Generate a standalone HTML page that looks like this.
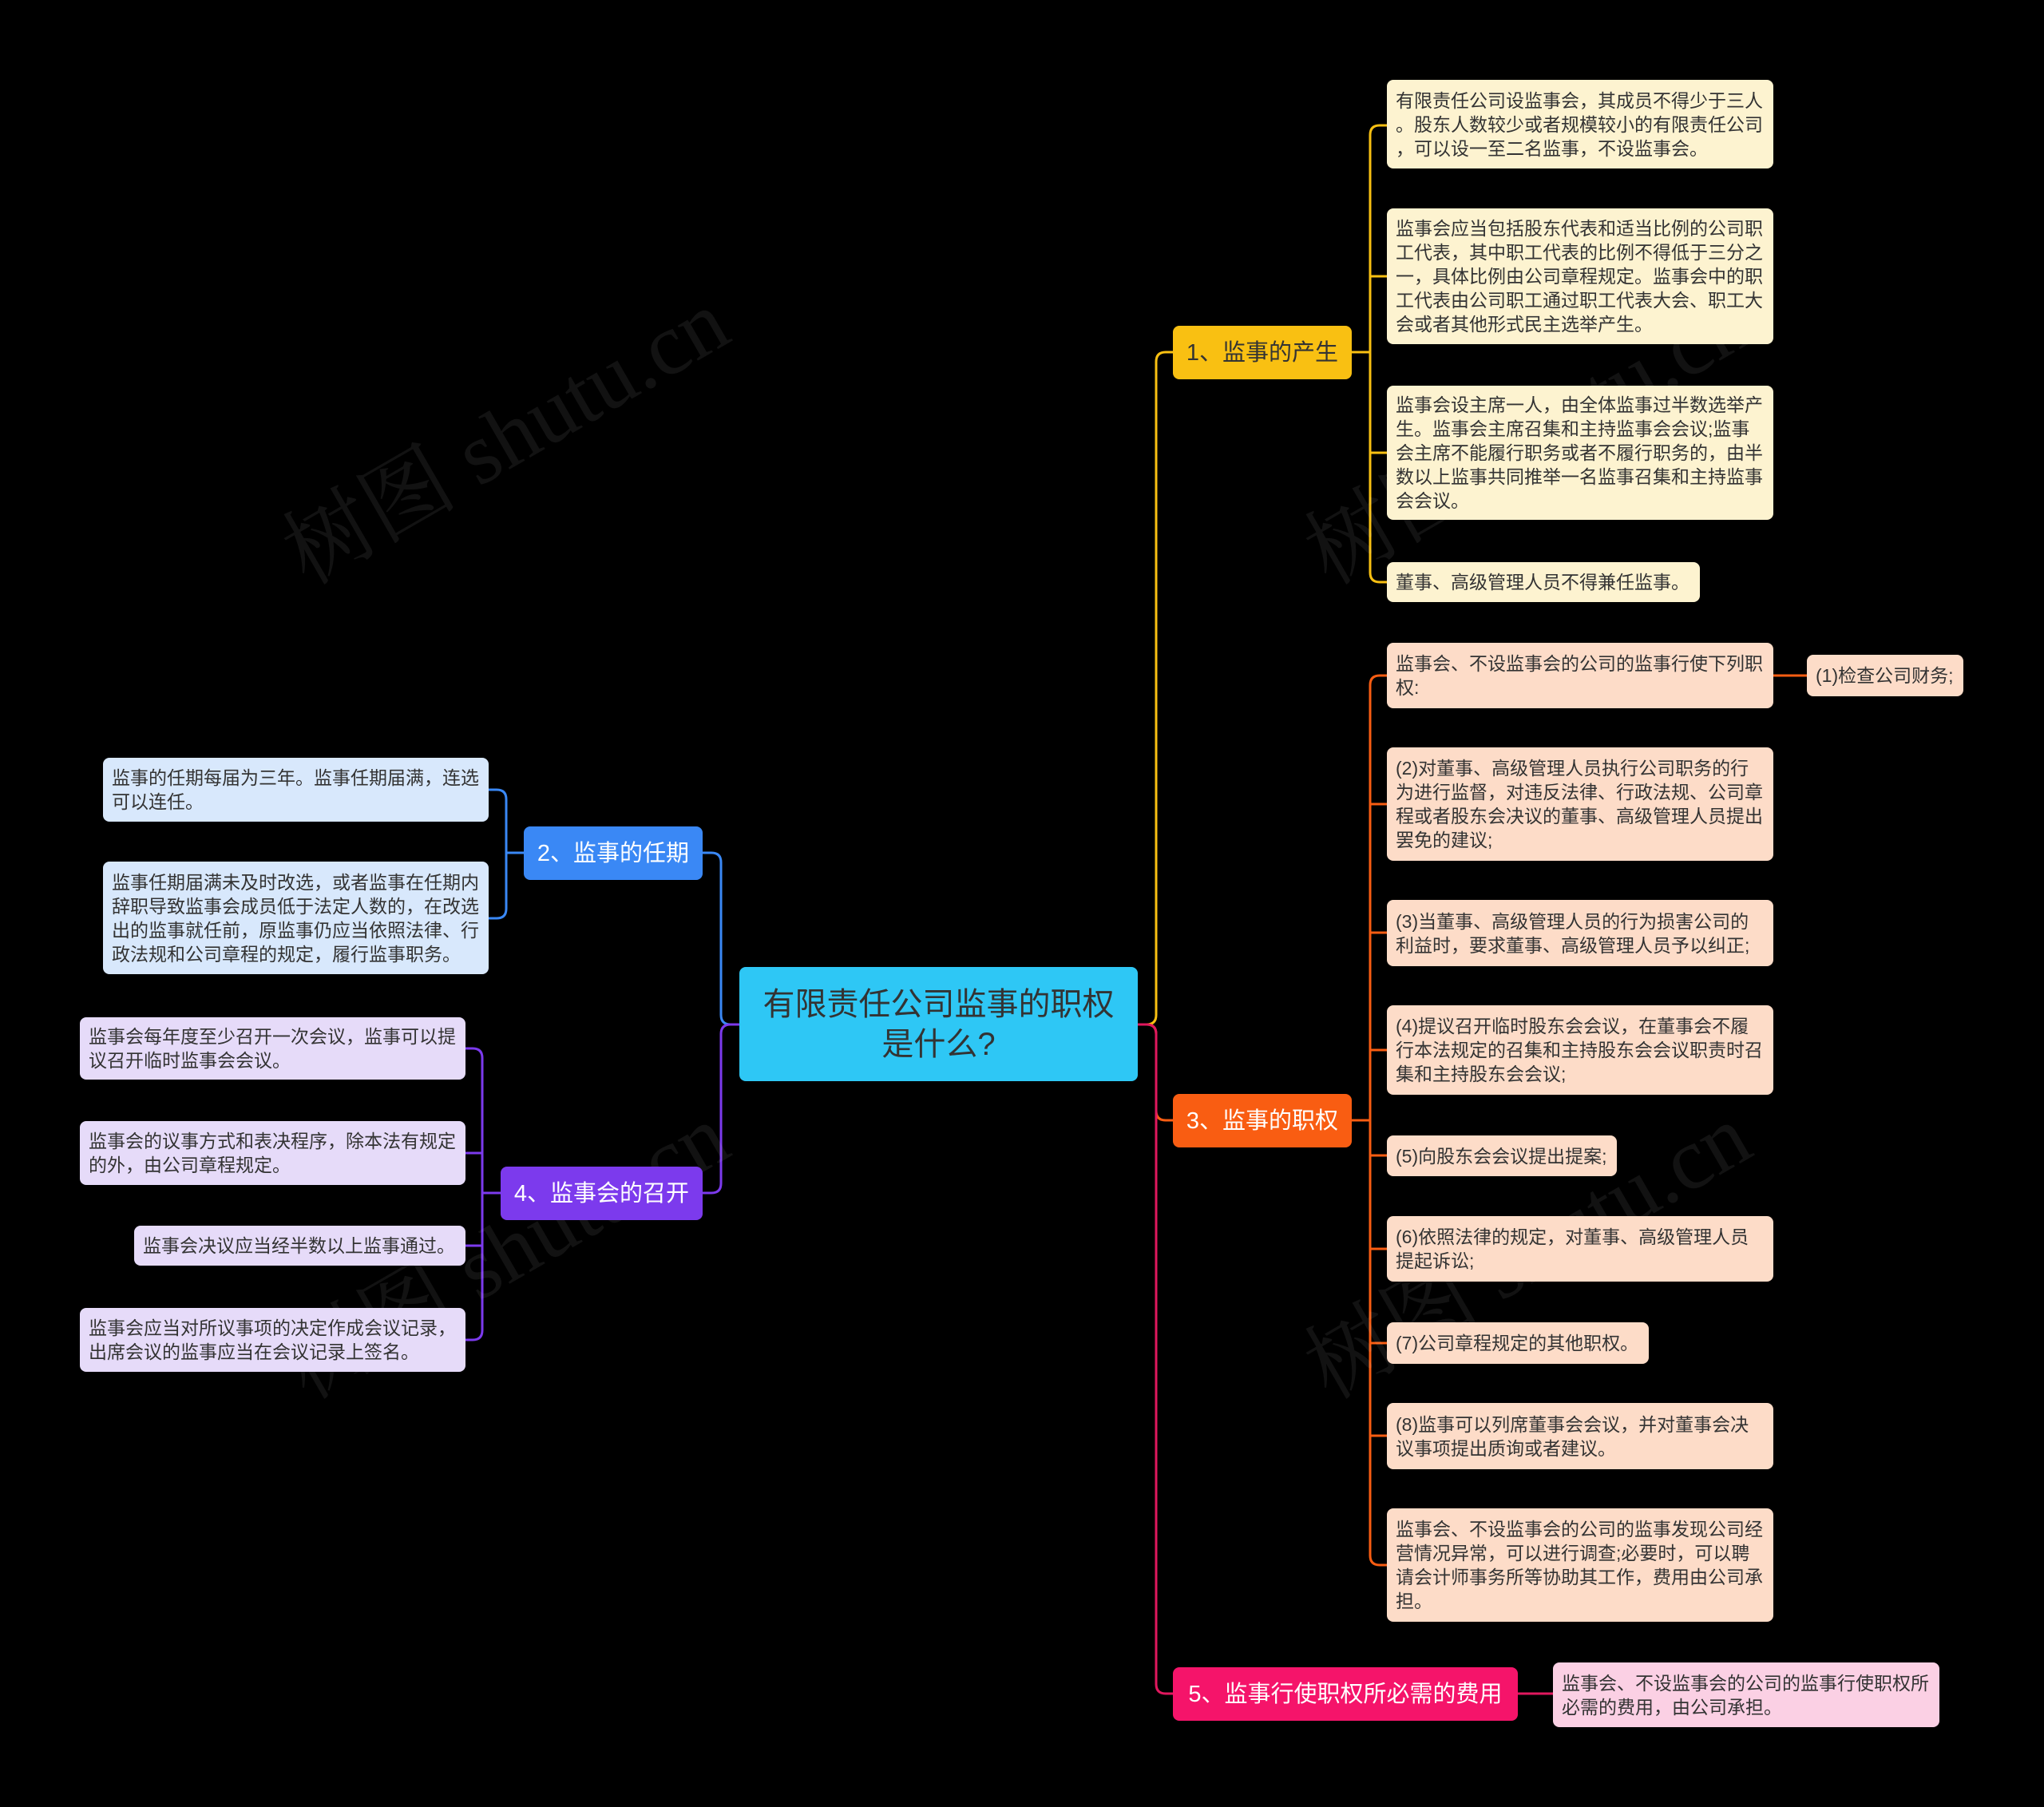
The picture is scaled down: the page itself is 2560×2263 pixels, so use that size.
<!DOCTYPE html>
<html><head><meta charset="utf-8"><style>
body{margin:0;background:#000;width:2560px;height:2263px;position:relative;overflow:hidden;font-family:"Liberation Sans","Noto Sans CJK SC",sans-serif}
.n{position:absolute;box-sizing:border-box;border-radius:8px;font-size:23px;line-height:30px;color:#333;padding:8px 11px;display:flex;align-items:center}
.b{color:#fff;font-size:29px;justify-content:center;padding:0}
.y{background:#fdf3d0}.o{background:#fddcc8}.bl{background:#d8e8fc}.p{background:#e6dbf9}.pk{background:#fbd0e4}
.wm{position:absolute;color:rgba(255,255,255,0.07);font-size:110px;font-family:"Liberation Serif","Noto Serif CJK SC",serif;transform:rotate(-30deg);white-space:nowrap}
</style></head><body>
<svg width="2560" height="2263" style="position:absolute;left:0;top:0" fill="none" stroke-width="3">
<path d="M1425 1283 H1436 Q1448 1283 1448 1271 V453 Q1448 441 1460 441 H1469" stroke="#f9c012"/>
<path d="M1425 1283 H1436 Q1448 1283 1448 1295 V1391 Q1448 1403 1460 1403 H1469" stroke="#f95d12"/>
<path d="M1425 1283 H1436 Q1448 1283 1448 1295 V2109 Q1448 2121 1460 2121 H1469" stroke="#e0185e"/>
<path d="M926 1283 H915 Q903 1283 903 1271 V1080 Q903 1068 891 1068 H880" stroke="#3a88f5"/>
<path d="M926 1283 H915 Q903 1283 903 1295 V1482 Q903 1494 891 1494 H880" stroke="#7c3aed"/>
<g stroke="#f9c012">
<path d="M1693 441 H1716"/>
<path d="M1737 157 H1728 Q1716 157 1716 169 V717 Q1716 729 1728 729 H1737"/>
<path d="M1716 346 Q1716 346 1737 346"/><path d="M1716 567 H1737"/>
</g>
<g stroke="#f95d12">
<path d="M1693 1403 H1716"/>
<path d="M1737 846 H1728 Q1716 846 1716 858 V1948 Q1716 1960 1728 1960 H1737"/>
<path d="M1716 1007 H1737"/><path d="M1716 1168 H1737"/><path d="M1716 1315 H1737"/><path d="M1716 1447 H1737"/><path d="M1716 1564 H1737"/><path d="M1716 1682 H1737"/><path d="M1716 1798 H1737"/>
<path d="M2221 846 H2263"/>
</g>
<path d="M1901 2121 H1945" stroke="#e0185e"/>
<g stroke="#3a88f5">
<path d="M656 1068 H634"/>
<path d="M612 989 H622 Q634 989 634 1001 V1138 Q634 1150 622 1150 H612"/>
</g>
<g stroke="#7c3aed">
<path d="M627 1494 H604"/>
<path d="M583 1313 H592 Q604 1313 604 1325 V1666 Q604 1678 592 1678 H583"/>
<path d="M583 1444 H604"/><path d="M583 1560 H604"/>
</g>
</svg>
<div class="wm" style="left:320px;top:460px">树图 shutu.cn</div>
<div class="wm" style="left:1600px;top:460px">树图 shutu.cn</div>
<div class="wm" style="left:320px;top:1480px">树图 shutu.cn</div>
<div class="wm" style="left:1600px;top:1480px">树图 shutu.cn</div>

<div class="n" style="left:926px;top:1211px;width:499px;height:143px;background:#2ec7f5;color:#333;font-size:40px;line-height:50px;justify-content:center;text-align:center">有限责任公司监事的职权<br>是什么?</div>

<div class="n b" style="left:1469px;top:408px;width:224px;height:67px;background:#f9c012;color:#333">1、监事的产生</div>
<div class="n y" style="left:1737px;top:100px;width:484px;height:111px;line-break:anywhere">有限责任公司设监事会，其成员不得少于三人。股东人数较少或者规模较小的有限责任公司，可以设一至二名监事，不设监事会。</div>
<div class="n y" style="left:1737px;top:261px;width:484px;height:170px">监事会应当包括股东代表和适当比例的公司职工代表，其中职工代表的比例不得低于三分之一，具体比例由公司章程规定。监事会中的职工代表由公司职工通过职工代表大会、职工大会或者其他形式民主选举产生。</div>
<div class="n y" style="left:1737px;top:483px;width:484px;height:168px">监事会设主席一人，由全体监事过半数选举产生。监事会主席召集和主持监事会会议;监事会主席不能履行职务或者不履行职务的，由半数以上监事共同推举一名监事召集和主持监事会会议。</div>
<div class="n y" style="left:1737px;top:704px;width:392px;height:50px">董事、高级管理人员不得兼任监事。</div>

<div class="n b" style="left:1469px;top:1370px;width:224px;height:67px;background:#f95d12">3、监事的职权</div>
<div class="n o" style="left:1737px;top:805px;width:484px;height:82px">监事会、不设监事会的公司的监事行使下列职权:</div>
<div class="n o" style="left:2263px;top:820px;width:196px;height:52px">(1)检查公司财务;</div>
<div class="n o" style="left:1737px;top:936px;width:484px;height:142px">(2)对董事、高级管理人员执行公司职务的行为进行监督，对违反法律、行政法规、公司章程或者股东会决议的董事、高级管理人员提出罢免的建议;</div>
<div class="n o" style="left:1737px;top:1127px;width:484px;height:83px">(3)当董事、高级管理人员的行为损害公司的利益时，要求董事、高级管理人员予以纠正;</div>
<div class="n o" style="left:1737px;top:1259px;width:484px;height:112px">(4)提议召开临时股东会会议，在董事会不履行本法规定的召集和主持股东会会议职责时召集和主持股东会会议;</div>
<div class="n o" style="left:1737px;top:1422px;width:288px;height:51px">(5)向股东会会议提出提案;</div>
<div class="n o" style="left:1737px;top:1523px;width:484px;height:82px">(6)依照法律的规定，对董事、高级管理人员提起诉讼;</div>
<div class="n o" style="left:1737px;top:1656px;width:328px;height:52px">(7)公司章程规定的其他职权。</div>
<div class="n o" style="left:1737px;top:1757px;width:484px;height:83px">(8)监事可以列席董事会会议，并对董事会决议事项提出质询或者建议。</div>
<div class="n o" style="left:1737px;top:1889px;width:484px;height:142px">监事会、不设监事会的公司的监事发现公司经营情况异常，可以进行调查;必要时，可以聘请会计师事务所等协助其工作，费用由公司承担。</div>

<div class="n b" style="left:1469px;top:2088px;width:432px;height:67px;background:#f5146a">5、监事行使职权所必需的费用</div>
<div class="n pk" style="left:1945px;top:2082px;width:484px;height:81px">监事会、不设监事会的公司的监事行使职权所必需的费用，由公司承担。</div>

<div class="n b" style="left:656px;top:1035px;width:224px;height:67px;background:#3a88f5">2、监事的任期</div>
<div class="n bl" style="left:129px;top:949px;width:483px;height:80px">监事的任期每届为三年。监事任期届满，连选可以连任。</div>
<div class="n bl" style="left:129px;top:1079px;width:483px;height:141px">监事任期届满未及时改选，或者监事在任期内辞职导致监事会成员低于法定人数的，在改选出的监事就任前，原监事仍应当依照法律、行政法规和公司章程的规定，履行监事职务。</div>

<div class="n b" style="left:627px;top:1461px;width:253px;height:67px;background:#7c3aed">4、监事会的召开</div>
<div class="n p" style="left:100px;top:1274px;width:483px;height:78px">监事会每年度至少召开一次会议，监事可以提议召开临时监事会会议。</div>
<div class="n p" style="left:100px;top:1404px;width:483px;height:80px">监事会的议事方式和表决程序，除本法有规定的外，由公司章程规定。</div>
<div class="n p" style="left:168px;top:1535px;width:415px;height:50px">监事会决议应当经半数以上监事通过。</div>
<div class="n p" style="left:100px;top:1638px;width:483px;height:80px">监事会应当对所议事项的决定作成会议记录，出席会议的监事应当在会议记录上签名。</div>
</body></html>
